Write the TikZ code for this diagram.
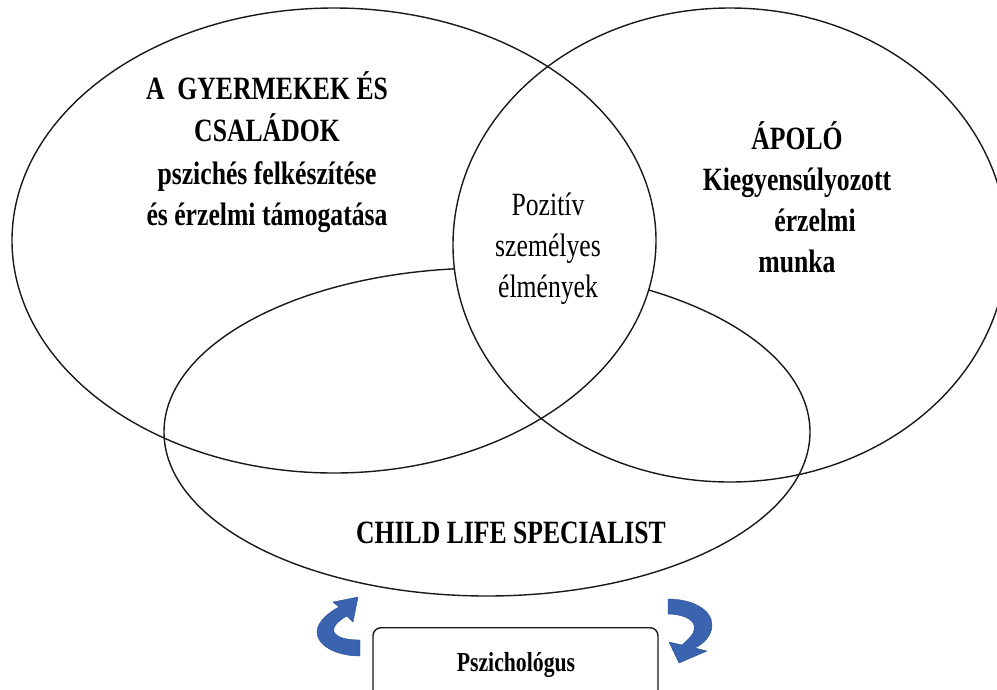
\documentclass[tikz,border=0pt]{standalone}
\usepackage{fontspec}
\setmainfont{Liberation Serif}[FakeStretch=0.79]
\definecolor{arrowblue}{RGB}{58,100,176}
\definecolor{arrowdark}{RGB}{40,76,145}
\begin{document}
\begin{tikzpicture}[x=1pt,y=-1pt,
  ring/.style={draw=black!90, line width=1.4pt},
  boldlbl/.style={font=\bfseries\fontsize{32.5}{32.5}\selectfont, anchor=base, inner sep=0pt},
  plainlbl/.style={font=\fontsize{32.5}{32.5}\selectfont, anchor=base, inner sep=0pt},
  curvearrow/.style={fill=arrowblue, draw=arrowdark, line width=0.4pt, line join=round}]
\clip (0,0) rectangle (997,689);
\fill[white] (0,0) rectangle (997,689);
% bottom ellipse (Child Life Specialist)
\draw[ring] (487,432) ellipse [x radius=323, y radius=164];
% white lens where the two big ellipses overlap
\begin{scope}
  \clip (334,240.5) ellipse [x radius=322, y radius=232.5];
  \fill[white] (730,245) ellipse [x radius=277, y radius=237];
\end{scope}
\draw[ring] (334,240.5) ellipse [x radius=322, y radius=232.5];
\draw[ring] (730,245) ellipse [x radius=277, y radius=237];
% left text
\node[boldlbl] (g1) at (267,99) {A\ \ GYERMEKEK ÉS};
\node[boldlbl] (g2) at (267,141) {CSALÁDOK};
\node[boldlbl] (g3) at (267,184) {pszichés felkészítése};
\node[boldlbl] (g4) at (267,225) {és érzelmi támogatása};
% right text
\node[boldlbl] (a1) at (797,149) {ÁPOLÓ};
\node[boldlbl] (a2) at (797,190) {Kiegyensúlyozott};
\node[boldlbl] (a3) at (815,231) {érzelmi};
\node[boldlbl] (a4) at (797,272) {munka};
% centre text
\node[plainlbl] (p1) at (548,215) {Pozitív};
\node[plainlbl] (p2) at (548,256) {személyes};
\node[plainlbl] (p3) at (548,297) {élmények};
% bottom text
\node[boldlbl] (cls) at (511,543) {CHILD LIFE SPECIALIST};
% psychologist box
\node[draw=black!90, line width=1.4pt, rounded corners=8pt, minimum width=285pt, minimum height=80pt, anchor=north, inner sep=0pt] (psz) at (515.5,627) {};
\node[font=\bfseries\fontsize{27.5}{27.5}\selectfont, anchor=base, inner sep=0pt] (pszt) at (516,671) {Pszichológus};
% curved arrows
\path[curvearrow] (360,656) .. controls (337,656) and (317,646) .. (317,632)
  .. controls (317,622) and (329,612) .. (339,607) -- (333,602) -- (358,597) -- (353,622) -- (347,616)
  .. controls (338,621) and (332,627) .. (334,632) .. controls (337,638) and (348,640) .. (360,640) -- cycle;
\path[curvearrow] (668,599) .. controls (693,599) and (712,610) .. (712,625)
  .. controls (712,636) and (703,644) .. (695,648) -- (707,651) -- (679,663) -- (669,642) -- (682,645)
  .. controls (690,638) and (696,632) .. (694,625) .. controls (692,618) and (680,614) .. (668,614) -- cycle;
\end{tikzpicture}
\end{document}
